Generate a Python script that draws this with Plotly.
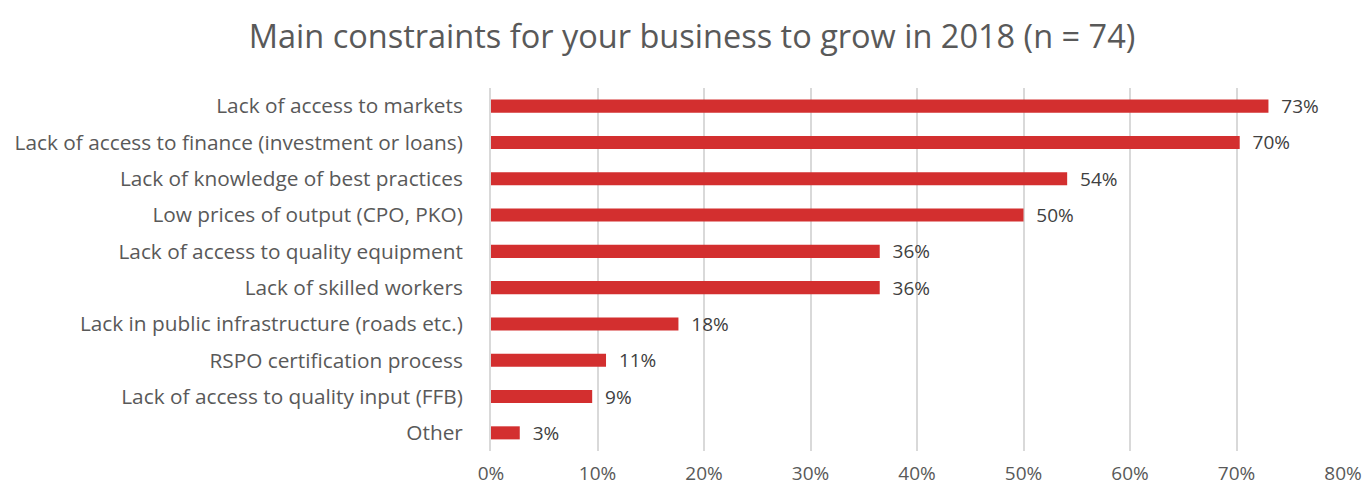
import plotly.graph_objects as go

categories = [
    "Lack of access to markets",
    "Lack of access to finance (investment or loans)",
    "Lack of knowledge of best practices",
    "Low prices of output (CPO, PKO)",
    "Lack of access to quality equipment",
    "Lack of skilled workers",
    "Lack in public infrastructure (roads etc.)",
    "RSPO certification process",
    "Lack of access to quality input (FFB)",
    "Other",
]
values = [0.730, 0.703, 0.541, 0.500, 0.365, 0.365, 0.176, 0.108, 0.095, 0.027]
labels = ["73%", "70%", "54%", "50%", "36%", "36%", "18%", "11%", "9%", "3%"]
tick_vals = [0, 0.1, 0.2, 0.3, 0.4, 0.5, 0.6, 0.7, 0.8]
tick_text = ["0%", "10%", "20%", "30%", "40%", "50%", "60%", "70%", "80%"]

FONT = "Open Sans"
TXT = "#595959"

fig = go.Figure(go.Bar(
    x=values,
    y=categories,
    orientation="h",
    marker=dict(color="#D32F2F", line=dict(width=0)),
    width=0.36,
    text=["  " + t for t in labels],
    textposition="outside",
    constraintext="none",
    textfont=dict(family=FONT, size=19, color="#404040"),
    cliponaxis=False,
))

fig.update_layout(
    width=1365,
    height=488,
    margin=dict(l=491, r=22, t=88, b=37, autoexpand=False),
    paper_bgcolor="white",
    plot_bgcolor="white",
    showlegend=False,
    title=dict(
        text="Main constraints for your business to grow in 2018 (n = 74)",
        x=0.507, xanchor="center", y=0.925, yanchor="middle",
        font=dict(family=FONT, size=32.5, color=TXT),
    ),
    xaxis=dict(
        range=[0, 0.8],
        tickvals=tick_vals,
        ticktext=tick_text,
        showgrid=True,
        gridcolor="#D9D9D9",
        gridwidth=2,
        zeroline=False,
        showline=False,
        ticks="outside",
        ticklen=5,
        tickcolor="rgba(0,0,0,0)",
        tickfont=dict(family=FONT, size=19, color=TXT),
        automargin=False,
    ),
    yaxis=dict(
        autorange="reversed",
        showgrid=False,
        zeroline=False,
        showline=True,
        linecolor="#D9D9D9",
        linewidth=2,
        ticks="outside",
        ticklen=22,
        tickcolor="rgba(0,0,0,0)",
        tickfont=dict(family=FONT, size=20.8, color=TXT),
        automargin=False,
    ),
    bargap=0.64,
)

fig.write_html("out.html")
